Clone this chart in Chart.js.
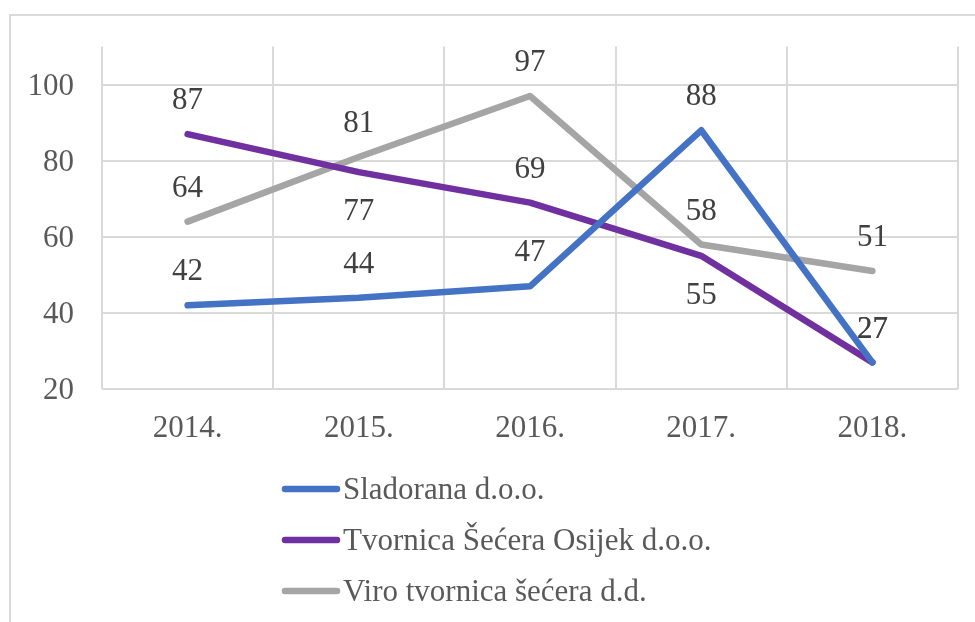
<!DOCTYPE html>
<html>
<head>
<meta charset="utf-8">
<script src="https://cdn.jsdelivr.net/npm/chart.js@4/dist/chart.umd.min.js"></script>
<style>
  html, body { margin: 0; padding: 0; background: #fff; }
  #wrap { width: 975px; height: 622px; position: relative; }
</style>
</head>
<body>
<div id="wrap"><canvas id="myChart" width="975" height="622"></canvas></div>
<script>
const years = ['2014.', '2015.', '2016.', '2017.', '2018.'];
const sladorana = [42, 44, 47, 88, 27];
const tvornicaOsijek = [87, 77, 69, 55, 27];
const viro = [64, 81, 97, 58, 51];
const yTicks = [20, 40, 60, 80, 100];

const seriesNames = ['Sladorana d.o.o.', 'Tvornica Šećera Osijek d.o.o.', 'Viro tvornica šećera d.d.'];
const seriesColors = ['#4472C4', '#7030A0', '#A5A5A5'];
// where each value label sits relative to its point
const labelSide = [
  ['up', 'up', 'up', 'up', 'up'],
  ['up', 'down', 'up', 'down', 'up'],
  ['up', 'up', 'up', 'up', 'up']
];

const FONT = "'Liberation Serif', 'Times New Roman', serif";

// light frame around the whole chart
const framePlugin = {
  id: 'frame',
  beforeDraw(chart) {
    const ctx = chart.ctx;
    ctx.save();
    ctx.strokeStyle = '#d9d9d9';
    ctx.lineWidth = 2;
    ctx.strokeRect(10, 15, 1000, 700);
    ctx.restore();
  }
};

// value labels above / below each point
const valueLabels = {
  id: 'valueLabels',
  afterDatasetsDraw(chart) {
    const ctx = chart.ctx;
    ctx.save();
    ctx.font = '31px ' + FONT;
    ctx.fillStyle = '#404040';
    ctx.textAlign = 'center';
    ctx.textBaseline = 'middle';
    chart.data.datasets.forEach((ds, di) => {
      const meta = chart.getDatasetMeta(di);
      meta.data.forEach((pt, i) => {
        const off = labelSide[di][i] === 'up' ? -33 : 40;
        ctx.fillText(String(ds.data[i]), pt.x, pt.y + off);
      });
    });
    ctx.restore();
  }
};

// vertical legend below the plot
const stackedLegend = {
  id: 'stackedLegend',
  afterDraw(chart) {
    const ctx = chart.ctx;
    const x0 = 285;
    const rows = [489, 540, 591];
    ctx.save();
    ctx.font = '31px ' + FONT;
    ctx.textAlign = 'left';
    ctx.textBaseline = 'middle';
    chart.data.datasets.forEach((ds, i) => {
      const y = rows[i];
      ctx.strokeStyle = ds.borderColor;
      ctx.lineWidth = 6.5;
      ctx.lineCap = 'round';
      ctx.beginPath();
      ctx.moveTo(x0, y);
      ctx.lineTo(x0 + 52, y);
      ctx.stroke();
      ctx.fillStyle = '#595959';
      ctx.fillText(ds.label, x0 + 58, y + 2);
    });
    ctx.restore();
  }
};

const allSeries = [sladorana, tvornicaOsijek, viro];

const ctx = document.getElementById('myChart').getContext('2d');
new Chart(ctx, {
  type: 'line',
  data: {
    labels: years,
    datasets: allSeries.map((vals, i) => ({
      label: seriesNames[i],
      data: vals,
      borderColor: seriesColors[i],
      backgroundColor: seriesColors[i],
      borderWidth: 6.5,
      borderCapStyle: 'round',
      borderJoinStyle: 'round',
      pointRadius: 0,
      tension: 0,
      fill: false
    }))
  },
  options: {
    responsive: false,
    animation: false,
    layout: {
      padding: { left: 0, right: 17, top: 46, bottom: 173 }
    },
    scales: {
      x: {
        offset: true,
        grid: { offset: true, color: '#d9d9d9', lineWidth: 2, drawTicks: false },
        border: { display: false },
        ticks: { color: '#595959', font: { family: FONT, size: 31 }, padding: 21, maxRotation: 0 },
        afterFit(scale) { scale.height = 60; }
      },
      y: {
        min: 20,
        max: 110,
        afterBuildTicks(scale) { scale.ticks = yTicks.map(v => ({ value: v })); },
        grid: { color: '#d9d9d9', lineWidth: 2, drawTicks: false },
        border: { display: false },
        ticks: { color: '#595959', font: { family: FONT, size: 31 }, padding: 28, labelOffset: 2 },
        afterFit(scale) { scale.width = 102; }
      }
    },
    plugins: {
      legend: { display: false },
      tooltip: { enabled: false }
    }
  },
  plugins: [framePlugin, valueLabels, stackedLegend]
});
</script>
</body>
</html>
